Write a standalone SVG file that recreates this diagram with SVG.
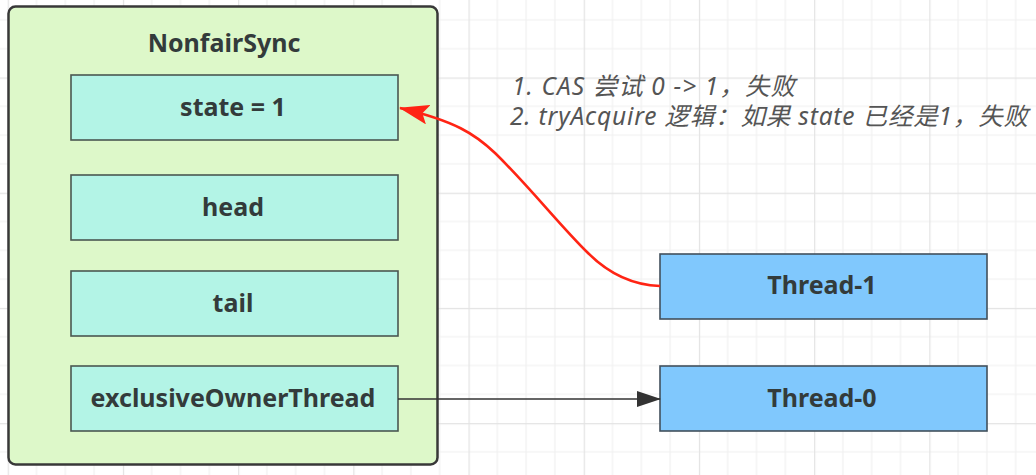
<svg xmlns="http://www.w3.org/2000/svg" width="1036" height="475" viewBox="0 0 1036 475">
<defs>
<style>
.grid-minor{stroke:#f0f0f0;stroke-width:1.2;fill:none}
.grid-major{stroke:#e3e3e3;stroke-width:1.4;fill:none}
.outer{fill:#ddf8c9;stroke:#383838;stroke-width:2.5}
.field{fill:#b3f4e6;stroke:#4a5752;stroke-width:1.6}
.thread{fill:#80c8fd;stroke:#42505c;stroke-width:1.6}
.lbl{font-family:"Noto Sans","Open Sans","Liberation Sans",sans-serif;font-weight:700;font-size:25px;fill:#333b3b;text-anchor:middle}
.note{font-family:"Noto Sans","Noto Sans CJK SC",sans-serif;font-style:italic;font-size:24.5px;fill:#555555}
</style>
<pattern id="grid" patternUnits="userSpaceOnUse" x="7.7" y="-37.7" width="115.2" height="115.2">
<path class="grid-minor" d="M28.8 0V115.2M57.6 0V115.2M86.4 0V115.2M0 28.8H115.2M0 57.6H115.2M0 86.4H115.2"/>
<path class="grid-major" d="M0.5 0V115.2M0 0.5H115.2"/>
</pattern>
<marker id="redHead" markerUnits="userSpaceOnUse" viewBox="0 0 30 20" markerWidth="30" markerHeight="20" refX="29" refY="10" orient="auto">
<path d="M0 0L30 10L0 20L6 10Z" fill="#ff2414"/>
</marker>
<marker id="darkHead" markerUnits="userSpaceOnUse" viewBox="0 0 24 16" markerWidth="24" markerHeight="16" refX="23" refY="8" orient="auto">
<path d="M0 0L24 8L0 16Z" fill="#333333"/>
</marker>
</defs>
<rect width="1036" height="475" fill="#ffffff"/>
<rect width="1036" height="475" fill="url(#grid)"/>

<g id="NonfairSync">
<rect class="outer" x="8.5" y="6.5" width="429" height="458" rx="7"/>
<text class="lbl" x="224" y="52">NonfairSync</text>
</g>
<g id="state">
<rect class="field" x="71" y="75" width="327" height="65"/>
<text class="lbl" x="233" y="116">state = 1</text>
</g>
<g id="head">
<rect class="field" x="71" y="175" width="327" height="65"/>
<text class="lbl" x="233" y="216">head</text>
</g>
<g id="tail">
<rect class="field" x="71" y="271" width="327" height="65"/>
<text class="lbl" x="233" y="312">tail</text>
</g>
<g id="exclusiveOwnerThread">
<rect class="field" x="71" y="366" width="327" height="65"/>
<text class="lbl" x="233" y="407">exclusiveOwnerThread</text>
</g>
<g id="Thread-1">
<rect class="thread" x="660" y="254" width="327" height="65"/>
<text class="lbl" x="822" y="294">Thread-1</text>
</g>
<g id="Thread-0">
<rect class="thread" x="660" y="366" width="327" height="65"/>
<text class="lbl" x="822" y="407">Thread-0</text>
</g>

<g id="connectors">
<path d="M660 286C630 285 607 272 588 253C562 228 528 185 495 153C475 134 455 121 400 108" fill="none" stroke="#ff2414" stroke-width="2.6" marker-end="url(#redHead)"/>
<path d="M398 399H660" fill="none" stroke="#333333" stroke-width="1.5" marker-end="url(#darkHead)"/>
</g>

<g id="note">
<text class="note" x="512" y="95" textLength="283" lengthAdjust="spacing">1. CAS 尝试 0 -&gt; 1，失败</text>
<text class="note" x="510" y="125" textLength="518" lengthAdjust="spacing">2. tryAcquire 逻辑：如果 state 已经是1，失败</text>
</g>
</svg>
